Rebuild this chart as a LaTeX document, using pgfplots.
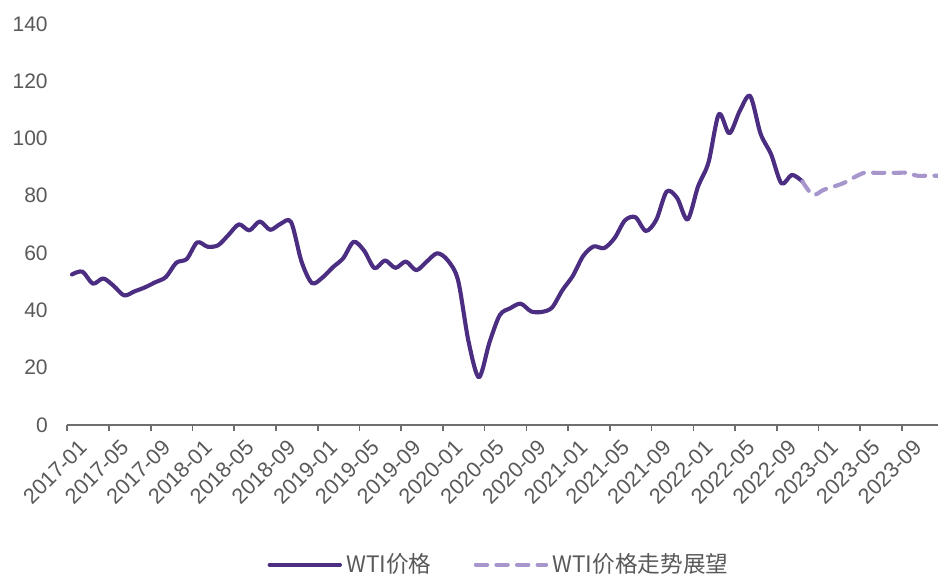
\documentclass[border=0pt]{standalone}
\usepackage{fontspec}
\setmainfont{Noto Sans CJK SC}
\newfontfamily\tickfont{Liberation Sans}
\usepackage{pgfplots}
\pgfplotsset{compat=1.18}
\definecolor{wti}{RGB}{75,45,130}
\definecolor{wtif}{RGB}{167,150,204}
\definecolor{txt}{RGB}{89,89,89}
\definecolor{axisgray}{RGB}{110,110,110}

\begin{document}
\begin{tikzpicture}
\begin{axis}[
  scale only axis, width=14.86cm, height=6.84cm,
  xmin=-0.45, xmax=83, ymin=0, ymax=140,
  axis x line=bottom, axis y line=left,
  x axis line style={-, draw=axisgray, line width=1pt},
  y axis line style={draw=none},
  ytick={0,20,...,140}, ytick style={draw=none},
  xtick={-0.45,3.55,7.55,11.55,15.55,19.55,23.55,27.55,31.55,35.55,39.55,43.55,47.55,51.55,55.55,59.55,63.55,67.55,71.55,75.55,79.55},
  xticklabels={2017-01,2017-05,2017-09,2018-01,2018-05,2018-09,2019-01,2019-05,2019-09,2020-01,2020-05,2020-09,2021-01,2021-05,2021-09,2022-01,2022-05,2022-09,2023-01,2023-05,2023-09},
  xtick style={draw=axisgray, line width=0.8pt},
  tick align=outside, major tick length=0.1cm,
  tick label style={font=\tickfont\fontsize{10.2}{12}\selectfont, text=txt},
  /pgf/number format/assume math mode=true,
  x tick label style={font=\tickfont\fontsize{10.5}{12}\selectfont, rotate=45, anchor=north east, inner sep=1pt, yshift=-5pt, xshift=2pt},
  y tick label style={xshift=-0.11cm},
  legend style={at={(0.497,-0.349)}, anchor=center, draw=none, fill=none,
    legend columns=2, font=\fontsize{11}{13}\selectfont, text=txt,
    /tikz/every even column/.append style={column sep=0.65cm}},
  legend image code/.code={\draw[#1] (0cm,0cm) -- (1.2cm,0cm);},
  clip=false,
]
\addplot[wti, line width=2pt, smooth, tension=0.5, line cap=round, line join=round] coordinates {
(0,52.5) (1,53.5) (2,49.3) (3,51.1) (4,48.5) (5,45.2) (6,46.6) (7,48.0) (8,49.8) (9,51.6) (10,56.6) (11,57.9)
(12,63.7) (13,62.2) (14,62.7) (15,66.3) (16,70.0) (17,67.9) (18,71.0) (19,68.1) (20,70.2) (21,70.8) (22,57.0) (23,49.5)
(24,51.4) (25,55.0) (26,58.2) (27,63.9) (28,60.8) (29,54.7) (30,57.4) (31,54.8) (32,57.0) (33,54.0) (34,57.0) (35,59.9)
(36,57.5) (37,50.5) (38,29.2) (39,16.6) (40,28.6) (41,38.3) (42,40.7) (43,42.3) (44,39.6) (45,39.4) (46,40.9) (47,47.0)
(48,52.0) (49,59.0) (50,62.3) (51,61.7) (52,65.2) (53,71.4) (54,72.5) (55,67.7) (56,71.6) (57,81.5) (58,79.2) (59,71.7)
(60,83.2) (61,91.6) (62,108.5) (63,101.8) (64,109.6) (65,114.8) (66,101.6) (67,94.5) (68,84.3) (69,87.3) (70,85.0)
};
\addlegendentry{WTI价格}
\addplot[wtif, line width=2pt, smooth, tension=0.5, line cap=round, dash pattern=on 5.5pt off 4.5pt] coordinates {
(70,85.0) (71,80.3) (72,82.0) (73,83.2) (74,84.5) (75,86.5) (76,88.1) (77,88.0) (78,88.0) (79,88.0) (80,88.0) (81,87.0) (82,87.0) (83,87.0)
};
\addlegendentry{WTI价格走势展望}
\coordinate (bl) at (rel axis cs:0,0);
\coordinate (tr) at (rel axis cs:1,1);
\end{axis}
\pgfresetboundingbox
\path ([xshift=-1.148cm,yshift=-2.542cm]bl) rectangle ([yshift=0.409cm]tr);
\end{tikzpicture}
\end{document}
